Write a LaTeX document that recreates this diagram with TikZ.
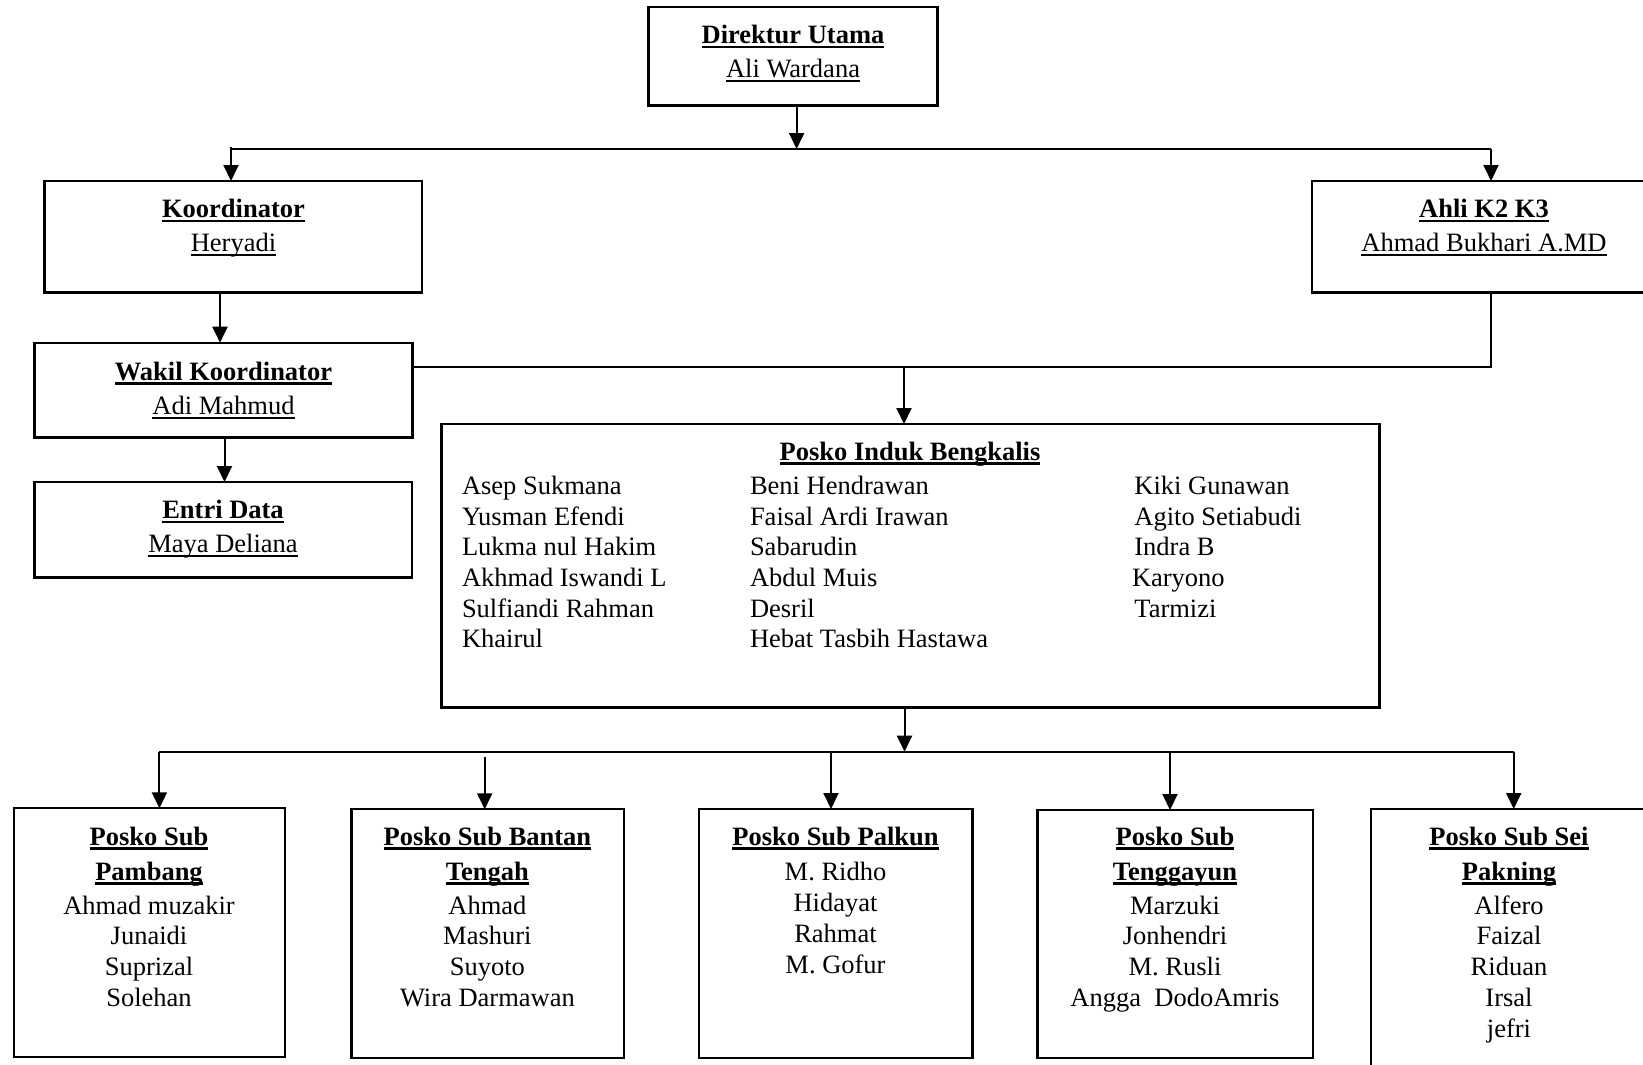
\documentclass[tikz,border=0pt]{standalone}
\usepackage{fontspec}
\setmainfont{Liberation Serif}
\usetikzlibrary{arrows.meta,fit}
\newsavebox\ulbox
\newcommand\ulb[1]{\sbox\ulbox{\bfseries #1}\rlap{\rule[-4.6pt]{\wd\ulbox}{2.2pt}}\usebox\ulbox}
\newcommand\ulr[1]{\sbox\ulbox{#1}\rlap{\rule[-4.2pt]{\wd\ulbox}{1.6pt}}\usebox\ulbox}
\begin{document}
\begin{tikzpicture}[x=1pt,y=-1pt,
  every node/.style={inner sep=0pt,outer sep=0pt,font=\fontsize{26.5}{30.7}\selectfont},
  box/.style={draw,line width=2.3pt},
  openbox/.style={draw=none},
  boxline/.style={line width=2.3pt},
  conn/.style={line width=2pt},
  arr/.style={conn,-{Triangle[width=15pt,length=16pt]}},
  lbl/.style={anchor=base},
  lst/.style={anchor=base west}]
\useasboundingbox (0,0) rectangle (1643,1065);

% boxes
\node[box,fit={(648.5,7) (937.5,105.5)}] (dir) {};
\node[box,fit={(44.5,181) (422,292.5)}] (koor) {};
\node[openbox,fit={(1312,181) (1643,292.5)}] (ahli) {};
\draw[boxline] (ahli.north east) -- (ahli.north west) -- (ahli.south west) -- (ahli.south east);
\node[box,fit={(34.5,342.7) (412.5,437.5)}] (wakil) {};
\node[box,fit={(34.5,482) (412,577.5)}] (entri) {};
\node[box,fit={(441.5,424) (1379.5,707.5)}] (induk) {};
\node[box,fit={(14,808.3) (285,1057)}] (s1) {};
\node[box,fit={(351.4,809.3) (623.7,1058)}] (s2) {};
\node[box,fit={(699,809) (972.6,1058)}] (s3) {};
\node[box,fit={(1037.4,810) (1312.8,1058)}] (s4) {};
\node[openbox,fit={(1371,809) (1643,1065)}] (s5) {};
\draw[boxline] (s5.north east) -- (s5.north west) -- (s5.south west);

% top texts
\node[lbl] (dirT) at (793,43.3) {\ulb{Direktur Utama}};
\node[lbl] (dirN) at (793,77.7) {\ulr{Ali Wardana}};
\node[lbl] (koorT) at (233.5,217.3) {\ulb{Koordinator}};
\node[lbl] (koorN) at (233.5,251.5) {\ulr{Heryadi}};
\node[lbl] (ahliT) at (1484,217.3) {\ulb{Ahli K2 K3}};
\node[lbl] (ahliN) at (1484,251.5) {\ulr{Ahmad Bukhari A.MD}};
\node[lbl] (wakilT) at (223.5,380) {\ulb{Wakil Koordinator}};
\node[lbl] (wakilN) at (223.5,414.3) {\ulr{Adi Mahmud}};
\node[lbl] (entriT) at (223,518.3) {\ulb{Entri Data}};
\node[lbl] (entriN) at (223,552.7) {\ulr{Maya Deliana}};

% induk
\node[lbl] (indukT) at (910,460) {\ulb{Posko Induk Bengkalis}};
\foreach \n [count=\i] in {Asep Sukmana,Yusman Efendi,Lukma nul Hakim,Akhmad Iswandi L,Sulfiandi Rahman,Khairul}
  \node[lst] (ca\i) at (462,{494.3+30.7*(\i-1)}) {\n};
\foreach \n [count=\i] in {Beni Hendrawan,Faisal Ardi Irawan,Sabarudin,Abdul Muis,Desril,Hebat Tasbih Hastawa}
  \node[lst] (cb\i) at (750,{494.3+30.7*(\i-1)}) {\n};
\foreach \n [count=\i] in {Kiki Gunawan,Agito Setiabudi,Indra B}
  \node[lst] (cc\i) at (1134.4,{494.3+30.7*(\i-1)}) {\n};
\node[lst] (cc4) at (1132,586.4) {Karyono};
\node[lst] (cc5) at (1134.4,617.1) {Tarmizi};

% sub boxes texts
\node[lbl] (s1a) at (149,845) {\ulb{Posko Sub}};
\node[lbl] (s1b) at (149,880) {\ulb{Pambang}};
\foreach \n [count=\i] in {Ahmad muzakir,Junaidi,Suprizal,Solehan}
  \node[lbl] (s1n\i) at (149,{914+30.8*(\i-1)}) {\n};

\node[lbl] (s2a) at (487.4,845) {\ulb{Posko Sub Bantan}};
\node[lbl] (s2b) at (487.4,880) {\ulb{Tengah}};
\foreach \n [count=\i] in {Ahmad,Mashuri,Suyoto,Wira Darmawan}
  \node[lbl] (s2n\i) at (487.4,{914+30.8*(\i-1)}) {\n};

\node[lbl] (s3a) at (835.5,845) {\ulb{Posko Sub Palkun}};
\foreach \n [count=\i] in {M. Ridho,Hidayat,Rahmat,M. Gofur}
  \node[lbl] (s3n\i) at (835.5,{880+31*(\i-1)}) {\n};

\node[lbl] (s4a) at (1175,845) {\ulb{Posko Sub}};
\node[lbl] (s4b) at (1175,880) {\ulb{Tenggayun}};
\foreach \n [count=\i] in {Marzuki,Jonhendri,M. Rusli}
  \node[lbl] (s4n\i) at (1175,{914+30.8*(\i-1)}) {\n};
\node[lbl] (s4n4) at (1175,1006.4) {Angga\ \ DodoAmris};

\node[lbl] (s5a) at (1509,845) {\ulb{Posko Sub Sei}};
\node[lbl] (s5b) at (1509,880) {\ulb{Pakning}};
\foreach \n [count=\i] in {Alfero,Faizal,Riduan,Irsal,jefri}
  \node[lbl] (s5n\i) at (1509,{914+30.8*(\i-1)}) {\n};

% connectors
\coordinate (jd) at (796.6,149);
\coordinate (jl0) at (231,149);
\coordinate (jl) at (231,146.5);
\coordinate (jr) at (1491,149);
\draw[arr] (dir.south -| jd) -- (jd);
\draw[conn] (jl0) -- (jr);
\draw[arr] (jl) -- (jl |- koor.north);
\draw[arr] (jr) -- (jr |- ahli.north);
\coordinate (kw) at (220,300);
\draw[arr] (koor.south -| kw) -- (wakil.north -| kw);
\coordinate (we) at (224.5,450);
\draw[arr] (wakil.south -| we) -- (entri.north -| we);
\coordinate (wr) at (1491,367.3);
\draw[conn] (ahli.south -| wr) -- (wr) -- (wr -| wakil.east);
\coordinate (wi) at (904,367.3);
\draw[arr] (wi) -- (wi |- induk.north);
\coordinate (ib) at (904.5,751.7);
\draw[arr] (induk.south -| ib) -- (ib);
\coordinate (bl) at (159.4,751.7);
\coordinate (br) at (1513.7,751.7);
\draw[conn] (bl) -- (br);
\draw[arr] (bl) -- (bl |- s1.north);
\coordinate (b2) at (484.7,757);
\draw[arr] (b2) -- (b2 |- s2.north);
\coordinate (b3) at (831,751.7);
\draw[arr] (b3) -- (b3 |- s3.north);
\coordinate (b4) at (1170,751.7);
\draw[arr] (b4) -- (b4 |- s4.north);
\draw[arr] (br) -- (br |- s5.north);
\end{tikzpicture}
\end{document}
